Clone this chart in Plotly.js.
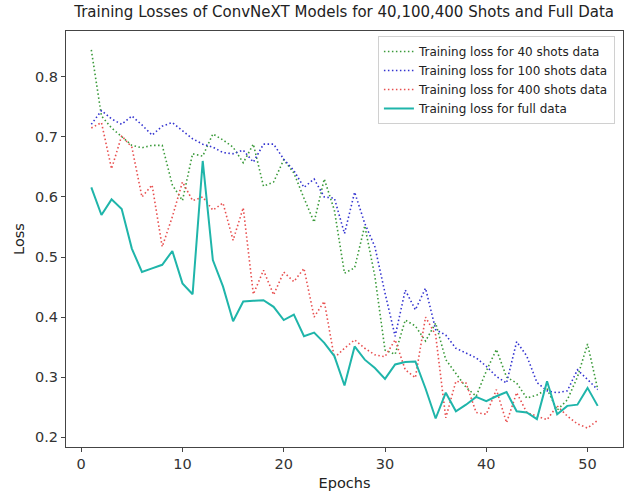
<!DOCTYPE html>
<html>
<head>
<meta charset="utf-8">
<script src="https://cdn.plot.ly/plotly-3.0.1.min.js"></script>
<style>html,body{margin:0;padding:0;background:#fff;}#chart{width:628px;height:494px;}</style>
</head>
<body>
<div id="chart"></div>
<script>
const epochs = [1,2,3,4,5,6,7,8,9,10,11,12,13,14,15,16,17,18,19,20,21,22,23,24,25,26,27,28,29,30,31,32,33,34,35,36,37,38,39,40,41,42,43,44,45,46,47,48,49,50,51];

const loss40 = [0.845,0.735,0.715,0.700,0.686,0.682,0.686,0.686,0.620,0.594,
                0.672,0.668,0.705,0.695,0.683,0.657,0.688,0.618,0.625,0.662,
                0.640,0.598,0.558,0.630,0.578,0.473,0.482,0.552,0.468,0.345,
                0.338,0.395,0.385,0.360,0.390,0.329,0.305,0.283,0.268,0.310,
                0.346,0.300,0.290,0.265,0.270,0.280,0.245,0.262,0.300,0.355,0.280];

const loss100 = [0.721,0.744,0.730,0.721,0.735,0.720,0.703,0.718,0.724,0.710,
                 0.697,0.688,0.683,0.674,0.672,0.678,0.658,0.688,0.688,0.663,
                 0.644,0.616,0.630,0.600,0.598,0.539,0.608,0.556,0.517,0.440,
                 0.368,0.445,0.412,0.448,0.379,0.370,0.348,0.340,0.332,0.318,
                 0.301,0.290,0.359,0.335,0.291,0.277,0.274,0.277,0.312,0.296,0.279];

const loss400 = [0.715,0.724,0.647,0.702,0.683,0.600,0.620,0.517,0.567,0.625,
                 0.594,0.600,0.578,0.590,0.528,0.582,0.438,0.478,0.437,0.475,
                 0.459,0.481,0.400,0.426,0.332,0.348,0.362,0.348,0.337,0.334,
                 0.362,0.312,0.299,0.400,0.370,0.232,0.293,0.290,0.241,0.238,
                 0.279,0.224,0.274,0.241,0.235,0.229,0.252,0.235,0.222,0.215,0.228];

const lossFull = [0.616,0.570,0.596,0.580,0.514,0.475,0.481,0.487,0.510,0.456,
                  0.438,0.660,0.495,0.451,0.393,0.426,0.427,0.428,0.417,0.395,
                  0.404,0.368,0.374,0.357,0.335,0.286,0.351,0.329,0.315,0.297,
                  0.321,0.325,0.326,0.281,0.231,0.274,0.243,0.254,0.267,0.260,
                  0.268,0.275,0.243,0.241,0.230,0.293,0.238,0.252,0.254,0.282,0.252];

const seriesNames = ["Training loss for 40 shots data","Training loss for 100 shots data","Training loss for 400 shots data","Training loss for full data"];
const xTicks = [0,10,20,30,40,50];
const yTicks = [0.2,0.3,0.4,0.5,0.6,0.7,0.8];

const FONT = "DejaVu Sans, sans-serif";
const DOT = "1.5px,2.5px";
const traces = [
  {x: epochs, y: loss40, name: seriesNames[0], mode: "lines", line: {color: "#3a9a3a", width: 1.6, dash: DOT}},
  {x: epochs, y: loss100, name: seriesNames[1], mode: "lines", line: {color: "#3333d0", width: 1.6, dash: DOT}},
  {x: epochs, y: loss400, name: seriesNames[2], mode: "lines", line: {color: "#e84f4f", width: 1.6, dash: DOT}},
  {x: epochs, y: lossFull, name: seriesNames[3], mode: "lines", line: {color: "#1fb5aa", width: 2}}
];

const axisCommon = {
  showline: true, mirror: true, linecolor: "#444", linewidth: 1,
  ticks: "outside", ticklen: 4, tickcolor: "#444", showgrid: false, zeroline: false,
  tickfont: {family: FONT, size: 14.5, color: "#333"}
};

const layout = {
  width: 628, height: 494,
  margin: {l: 66, r: 5, t: 31, b: 47},
  paper_bgcolor: "#fff", plot_bgcolor: "#fff",
  font: {family: FONT, color: "#222"},
  title: {text: "Training Losses of ConvNeXT Models for 40,100,400 Shots and Full Data",
          font: {family: FONT, size: 15, color: "#222"}, x: 0.548, xanchor: "center", y: 0.976, yanchor: "middle"},
  xaxis: Object.assign({}, axisCommon, {range: [-1.5, 53.5], tickvals: xTicks,
          title: {text: "Epochs", font: {family: FONT, size: 14.5, color: "#222"}, standoff: 6}}),
  yaxis: Object.assign({}, axisCommon, {range: [0.1835, 0.8765], tickvals: yTicks, tickformat: ".1f",
          title: {text: "Loss", font: {family: FONT, size: 14.5, color: "#222"}, standoff: 6}}),
  legend: {x: 0.56, y: 0.988, xanchor: "left", yanchor: "top",
           bgcolor: "rgba(255,255,255,0.9)", bordercolor: "#d0d0d0", borderwidth: 1,
           font: {family: FONT, size: 12, color: "#222"}, itemwidth: 30, tracegroupgap: 0},
  showlegend: true
};

Plotly.newPlot("chart", traces, layout, {displayModeBar: false, staticPlot: true});
</script>
</body>
</html>
